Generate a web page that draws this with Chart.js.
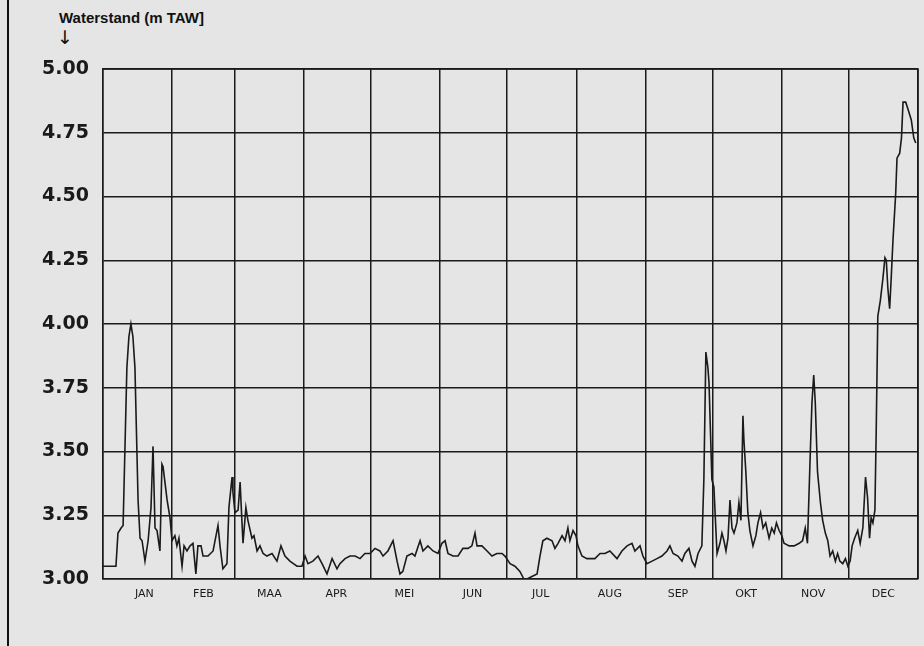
<!DOCTYPE html>
<html>
<head>
<meta charset="utf-8">
<script src="https://cdn.jsdelivr.net/npm/chart.js@4.4.1/dist/chart.umd.min.js"></script>
<style>
  body { margin: 0; background: #e5e5e5; }
  #wrap { position: relative; width: 924px; height: 646px; overflow: hidden; }
  #frame { position: absolute; left: 7px; top: 0; width: 2px; height: 646px; background: #111; }
  #ytitle { position: absolute; left: 59px; top: 9px; font: bold 15px "Liberation Sans", Arial, sans-serif; color: #111; }
  #arrow { position: absolute; left: 57px; top: 26px; font: 19px "DejaVu Sans", sans-serif; color: #111; }
  canvas { position: absolute; left: 0; top: 0; }
</style>
</head>
<body>
<div id="wrap">
  <div id="frame"></div>
  <div id="ytitle">Waterstand (m TAW]</div>
  <div id="arrow">↓</div>
  <canvas id="chart" width="924" height="646"></canvas>
</div>
<script>
// day of year (0 = 1 jan) and water level (m TAW)
const days = [
  0, 5.8, 6.7, 8.1, 9, 10.7, 11.6, 12.5, 13.4, 14.3, 15.7, 16.6, 17.5, 18.8, 20.2, 21.5, 22.4, 23.3, 24.2, 25.5,
  26.4, 26.9, 28.7, 30, 30.9, 32.2, 33.1, 34, 35.4, 36.3, 37.6, 39, 40.3, 41.6, 42.5, 43.9, 44.8, 47, 49.3, 51.5,
  52.4, 53.7, 55.5, 56.4, 57.8, 58.2, 59.1, 60.5, 61.4, 62.2, 62.7, 64, 64.9, 66.7, 67.6, 69, 70.3, 71.7, 73.4, 75.7,
  77.9, 79.7, 81.5, 83.7, 86.9, 89.1, 90.5, 91.8, 94, 96.3, 98.1, 100.3, 102.6, 104.8, 106.1, 108.4, 110.6, 112.9, 115.1, 117.3,
  119.6, 121.8, 124, 125.4, 127.6, 129.9, 131.7, 133, 134.3, 136.1, 138.4, 139.7, 142, 143.3, 145.5, 147.8, 150, 151.8, 153.2, 154.5,
  156.7, 159, 161.2, 163.5, 165.2, 166.6, 167.5, 169.7, 172, 174.2, 176.4, 178.7, 180, 182.3, 184.5, 186.7, 188.5, 189.9, 192.1, 194.4,
  195.7, 197, 198.8, 201.1, 202.4, 203.8, 205.6, 206.9, 208.2, 209.1, 210.5, 211.8, 212.7, 214.5, 216.7, 218.1, 220.3, 222.6, 224.8, 227,
  230.2, 232.4, 234.7, 236.9, 238.2, 240.5, 241.8, 243.6, 245.9, 248.1, 250.3, 252.6, 253.9, 255.3, 257.5, 259.3, 260.6, 262.4, 263.8, 265.1,
  266.5, 268.2, 269.1, 270, 270.9, 271.4, 272.7, 273.6, 274.5, 275, 276.3, 277.2, 278.1, 279, 279.9, 280.8, 281.7, 282.6, 283.9, 284.8,
  285.7, 286.6, 287, 287.9, 288.8, 289.7, 291.1, 292.4, 293.3, 294.5, 295.6, 296.8, 298.3, 299.5, 300.6, 301.6, 302.8, 304, 305, 307.3,
  309.5, 311.8, 313.3, 314.5, 315.5, 316.6, 317.5, 318.3, 319, 320, 321.3, 322.3, 323.5, 324.6, 325.6, 326.8, 328, 329, 330, 331.3,
  332.5, 333.6, 334.6, 335.5, 336.6, 338, 339.1, 340.3, 341.5, 342.4, 343.3, 344, 344.8, 345.7, 346.3, 347, 348.1, 349.3, 350.2, 350.8,
  351.5, 352.3, 353, 353.8, 355, 355.6, 356.8, 357.6, 358.3, 359.5, 360.6, 362, 363.1, 364
];
const levels = [
  3.05, 3.05, 3.18, 3.20, 3.21, 3.83, 3.95, 4.00, 3.95, 3.83, 3.31, 3.16, 3.15, 3.07, 3.15, 3.28, 3.52, 3.20, 3.19, 3.11,
  3.45, 3.44, 3.31, 3.24, 3.15, 3.17, 3.13, 3.16, 3.05, 3.13, 3.11, 3.13, 3.14, 3.02, 3.13, 3.13, 3.09, 3.09, 3.11, 3.21,
  3.13, 3.04, 3.06, 3.28, 3.40, 3.34, 3.26, 3.27, 3.38, 3.23, 3.14, 3.28, 3.23, 3.16, 3.17, 3.11, 3.13, 3.10, 3.09, 3.10,
  3.07, 3.13, 3.09, 3.07, 3.05, 3.05, 3.09, 3.06, 3.07, 3.09, 3.06, 3.02, 3.08, 3.04, 3.06, 3.08, 3.09, 3.09, 3.08, 3.10,
  3.10, 3.12, 3.11, 3.09, 3.11, 3.15, 3.07, 3.02, 3.03, 3.09, 3.10, 3.09, 3.15, 3.11, 3.13, 3.11, 3.10, 3.14, 3.15, 3.10,
  3.09, 3.09, 3.12, 3.12, 3.13, 3.18, 3.13, 3.13, 3.11, 3.09, 3.10, 3.10, 3.09, 3.06, 3.05, 3.03, 3.00, 3.00, 3.01, 3.02,
  3.09, 3.15, 3.16, 3.15, 3.12, 3.14, 3.17, 3.15, 3.20, 3.15, 3.19, 3.17, 3.13, 3.09, 3.08, 3.08, 3.08, 3.10, 3.10, 3.11,
  3.08, 3.11, 3.13, 3.14, 3.11, 3.13, 3.09, 3.06, 3.07, 3.08, 3.09, 3.11, 3.13, 3.10, 3.09, 3.07, 3.10, 3.12, 3.07, 3.05,
  3.10, 3.13, 3.39, 3.89, 3.83, 3.77, 3.39, 3.36, 3.19, 3.10, 3.14, 3.18, 3.15, 3.11, 3.16, 3.31, 3.20, 3.18, 3.22, 3.30,
  3.23, 3.64, 3.55, 3.42, 3.26, 3.19, 3.13, 3.17, 3.22, 3.26, 3.20, 3.22, 3.16, 3.20, 3.18, 3.22, 3.19, 3.17, 3.14, 3.13,
  3.13, 3.14, 3.15, 3.20, 3.14, 3.45, 3.69, 3.80, 3.69, 3.42, 3.30, 3.23, 3.18, 3.15, 3.09, 3.11, 3.07, 3.10, 3.07, 3.06,
  3.08, 3.05, 3.07, 3.13, 3.16, 3.19, 3.14, 3.20, 3.40, 3.32, 3.16, 3.24, 3.22, 3.27, 3.59, 4.03, 4.09, 4.18, 4.26, 4.25,
  4.14, 4.06, 4.18, 4.33, 4.51, 4.65, 4.67, 4.73, 4.87, 4.87, 4.84, 4.80, 4.73, 4.71
];

const monthStarts = [0, 31, 59, 90, 120, 151, 181, 212, 243, 273, 304, 334, 365];
const monthNames = ['JAN', 'FEB', 'MAA', 'APR', 'MEI', 'JUN', 'JUL', 'AUG', 'SEP', 'OKT', 'NOV', 'DEC'];
const labelDays = [18.5, 45, 74.5, 104.5, 135, 165.5, 196, 227, 257.5, 288, 318, 349.5];

const ink = '#1a1a1a';

const points = days.map((d, i) => ({ x: d, y: levels[i] }));

new Chart(document.getElementById('chart'), {
  type: 'line',
  data: {
    datasets: [{
      data: points,
      borderColor: ink,
      borderWidth: 1.6,
      pointRadius: 0,
      tension: 0,
      fill: false
    }]
  },
  options: {
    responsive: false,
    animation: false,
    layout: { padding: { left: 0, right: 6, top: 69, bottom: 0 } },
    plugins: { legend: { display: false }, tooltip: { enabled: false } },
    scales: {
      x: {
        type: 'linear',
        min: 0,
        max: 365,
        afterBuildTicks: (scale) => {
          scale.ticks = monthStarts.concat(labelDays).map(v => ({ value: v }))
        },
        afterFit: (scale) => { scale.height = 67 },
        grid: {
          color: (ctx) => monthStarts.includes(ctx.tick.value) ? ink : 'rgba(0,0,0,0)',
          lineWidth: 1.5,
          drawTicks: false
        },
        border: { color: ink, width: 1.5 },
        ticks: {
          autoSkip: false,
          maxRotation: 0,
          padding: 9,
          color: ink,
          font: { family: 'DejaVu Sans', size: 11 },
          callback: (value) => {
            const i = labelDays.indexOf(value)
            return i >= 0 ? monthNames[i] : ''
          }
        }
      },
      y: {
        min: 3,
        max: 5,
        afterFit: (scale) => { scale.width = 103 },
        afterBuildTicks: (scale) => {
          const t = []
          for (let i = 0; i <= 8; i++) t.push({ value: 3 + i * 0.25 })
          scale.ticks = t
        },
        grid: { color: ink, lineWidth: 1.5, drawTicks: false },
        border: { color: ink, width: 1.5 },
        ticks: {
          padding: 14,
          color: ink,
          font: { family: 'DejaVu Sans', size: 19, weight: 'bold' },
          callback: (value) => value.toFixed(2)
        }
      }
    }
  },
  plugins: [{
    id: 'rightTop',
    afterDraw: (chart) => {
      // close the frame on the right and top like the original plot box
      const { ctx, chartArea } = chart
      ctx.save()
      ctx.strokeStyle = ink
      ctx.lineWidth = 1.5
      ctx.beginPath()
      ctx.moveTo(chartArea.left, chartArea.top)
      ctx.lineTo(chartArea.right, chartArea.top)
      ctx.lineTo(chartArea.right, chartArea.bottom)
      ctx.stroke()
      ctx.restore()
    }
  }]
});
</script>
</body>
</html>
